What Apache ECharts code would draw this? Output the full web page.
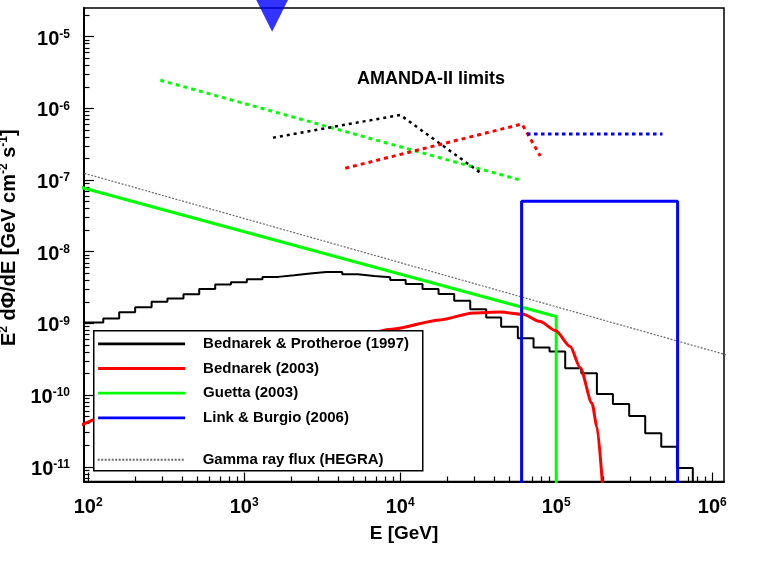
<!DOCTYPE html>
<html>
<head>
<meta charset="utf-8">
<script src="https://cdn.jsdelivr.net/npm/echarts@6/dist/echarts.min.js"></script>
<style>
  html, body { margin: 0; padding: 0; background: #fff; }
  #chart { width: 766px; height: 564px; }
</style>
</head>
<body>
<div id="chart"></div>
<script>
// axis ranges and tick labels
const xMin = 94, xMax = 1.19e6
const yMin = 6.24e-12, yMax = 2.51e-5
const xMajor = [1e2, 1e3, 1e4, 1e5, 1e6]
const yMajor = [1e-11, 1e-10, 1e-9, 1e-8, 1e-7, 1e-6, 1e-5]

// Bednarek & Protheroe (1997) - histogram, bin edges [GeV] and bin contents
const bpEdges = [90, 125, 158, 200, 255, 322, 408, 515, 652, 822, 1040, 1309, 1652, 2094, 2650, 3356, 4250, 5344,
  6813, 8630, 10840, 13900, 17610, 22190, 28110, 35600, 44370, 56770, 71560, 90620, 114200, 144700, 182300,
  230900, 293600, 372000, 471400, 594000, 751000]
const bpFlux = [1.03e-9, 1.17e-9, 1.43e-9, 1.68e-9, 2.0e-9, 2.22e-9, 2.55e-9, 3.03e-9, 3.48e-9, 3.76e-9, 4.13e-9,
  4.46e-9, 4.7e-9, 4.96e-9, 5.22e-9, 5.22e-9, 4.85e-9, 4.59e-9, 4.39e-9, 4.05e-9, 3.56e-9, 3.03e-9, 2.58e-9,
  2.08e-9, 1.58e-9, 1.21e-9, 9.0e-10, 6.2e-10, 4.6e-10, 4.05e-10, 2.37e-10, 2.02e-10, 1.04e-10, 7.5e-11,
  5.1e-11, 2.94e-11, 1.91e-11, 9.6e-12]

// Bednarek (2003)
const bedE = [90, 316, 1000, 3162, 8850, 18030, 29380, 43750, 61380, 78890, 99000, 123000, 142600, 169500, 182400, 198600]
const bedFlux = [3.84e-11, 9.4e-11, 2.1e-10, 4.47e-10, 8.3e-10, 1.12e-9, 1.40e-9, 1.445e-9, 1.34e-9, 1.06e-9,
  7.94e-10, 4.75e-10, 2.41e-10, 7.7e-11, 3.64e-11, 5.1e-12]

// Guetta (2003)
const gueE = [90, 1e5, 1e5]
const gueFlux = [7.9e-8, 1.25e-9, 1e-13]

// Link & Burgio (2006)
const linkE = [6e4, 6e4, 6e5, 6e5]
const linkFlux = [1e-13, 5.06e-8, 5.06e-8, 1e-13]

// Gamma ray flux (HEGRA)
const hegraE = [90, 1.25e6]
const hegraFlux = [1.28e-7, 3.61e-10]

// AMANDA-II limits
const amGreenE = [290, 58800]
const amGreenFlux = [2.47e-6, 1.0e-7]
const amBlackE = [1530, 10000, 33400]
const amBlackFlux = [3.9e-7, 8.1e-7, 1.22e-7]
const amRedE = [4440, 60300, 79000]
const amRedFlux = [1.46e-7, 6.05e-7, 2.17e-7]
const amBlueE = [65000, 480000]
const amBlueFlux = [4.4e-7, 4.4e-7]

// marker at the top
const markerE = [1510]
const markerFlux = [2.23e-5]

const FONT = 'Liberation Sans, Arial, sans-serif'

function pts(xs, ys) {
  return xs.map((x, i) => [x, ys[i]])
}

function minorOf(major, lo, hi) {
  const out = []
  const first = major[0] / 10
  for (let d = first; d <= major[major.length - 1] * 10; d *= 10) {
    for (let k = 2; k <= 9; k++) {
      const v = d * k
      if (v > lo && v < hi) out.push(v)
    }
  }
  return out
}

// histogram as a step line
const bpPoints = bpFlux.map((v, i) => [bpEdges[i], v])
bpPoints.push([bpEdges[bpEdges.length - 1], bpFlux[bpFlux.length - 1]])
bpPoints.push([bpEdges[bpEdges.length - 1], 1e-13])

const expLabel = v => '{b|10}{s|' + Math.round(Math.log10(v)) + '}'
const xLabelRich = {
  b: { fontSize: 20, fontWeight: 'bold', fontFamily: FONT, color: '#000', lineHeight: 20, padding: [2, 0, 0, 0] },
  s: { fontSize: 12, fontWeight: 'bold', fontFamily: FONT, color: '#000', lineHeight: 12, verticalAlign: 'top' }
}
const yLabelRich = {
  b: { fontSize: 20, fontWeight: 'bold', fontFamily: FONT, color: '#000', lineHeight: 20, padding: [5, 0, 0, 0] },
  s: { fontSize: 12, fontWeight: 'bold', fontFamily: FONT, color: '#000', lineHeight: 12, verticalAlign: 'top', padding: [2, 0, 0, 0] }
}
const legendText = { fontSize: 15, fontWeight: 'bold', fontFamily: FONT, color: '#000', padding: [0, 0, 0, 13] }
// hide the symbol drawn in the middle of legend lines
const legendItem = { opacity: 0, color: 'rgba(0,0,0,0)', borderWidth: 0 }

const chart = echarts.init(document.getElementById('chart'))

const option = {
  animation: false,
  backgroundColor: '#fff',
  grid: {
    left: 84, right: 42, top: 8, bottom: 82.5,
    outerBoundsMode: 'none', containLabel: false,
    show: true, borderColor: '#000', borderWidth: 1.5, backgroundColor: 'transparent'
  },
  xAxis: [{
    type: 'log', logBase: 10, min: xMin, max: xMax, position: 'bottom',
    name: 'E [GeV]', nameLocation: 'middle', nameGap: 43,
    nameTextStyle: { fontSize: 19, fontWeight: 'bold', fontFamily: FONT, color: '#000' },
    axisLine: { show: true, lineStyle: { color: '#000', width: 2 } },
    axisTick: { show: true, inside: true, length: 9, customValues: xMajor, lineStyle: { color: '#000', width: 1.2 } },
    axisLabel: { customValues: xMajor, margin: 15, formatter: expLabel, rich: xLabelRich },
    splitLine: { show: false }
  }, {
    type: 'log', logBase: 10, min: xMin, max: xMax, position: 'bottom',
    axisLine: { show: false },
    axisTick: { show: true, inside: true, length: 5, customValues: minorOf(xMajor, xMin, xMax), lineStyle: { color: '#000', width: 1.2 } },
    axisLabel: { show: false },
    splitLine: { show: false }
  }],
  yAxis: [{
    type: 'log', logBase: 10, min: yMin, max: yMax, position: 'left',
    name: '{n|E}{p|2}{n| dΦ/dE [GeV cm}{p|-2}{n| s}{p|-1}{n|]}',
    nameLocation: 'middle', nameGap: 48,
    nameTextStyle: {
      padding: [0, 0, 0, 14],
      rich: {
        n: { fontSize: 20, fontWeight: 'bold', fontFamily: FONT, color: '#000', lineHeight: 20, padding: [3, 0, 0, 0] },
        p: { fontSize: 12, fontWeight: 'bold', fontFamily: FONT, color: '#000', lineHeight: 12, verticalAlign: 'top' }
      }
    },
    axisLine: { show: true, lineStyle: { color: '#000', width: 2 } },
    axisTick: { show: true, inside: true, length: 10, customValues: yMajor, lineStyle: { color: '#000', width: 1.2 } },
    axisLabel: { customValues: yMajor, margin: 14, formatter: expLabel, rich: yLabelRich },
    splitLine: { show: false }
  }, {
    type: 'log', logBase: 10, min: yMin, max: yMax, position: 'left',
    axisLine: { show: false },
    axisTick: { show: true, inside: true, length: 5.5, customValues: minorOf(yMajor, yMin, yMax), lineStyle: { color: '#000', width: 1.2 } },
    axisLabel: { show: false },
    splitLine: { show: false }
  }],
  legend: [{
    orient: 'vertical', left: 96.7, top: 336.3, padding: 0, z: 20,
    itemWidth: 87, itemHeight: 14, itemGap: 9.7, selectedMode: false,
    textStyle: legendText, itemStyle: legendItem, lineStyle: { width: 2.8 },
    data: ['Bednarek & Protheroe (1997)', 'Bednarek (2003)', 'Guetta (2003)', 'Link & Burgio (2006)']
  }, {
    orient: 'vertical', left: 96.7, top: 452.3, padding: 0, z: 20,
    itemWidth: 87, itemHeight: 14, selectedMode: false,
    textStyle: legendText, itemStyle: legendItem,
    data: ['Gamma ray flux (HEGRA)']
  }],
  graphic: [{
    type: 'rect', left: 93, top: 330, z: 10,
    shape: { width: 329, height: 140 },
    style: { fill: '#fff', stroke: '#000', lineWidth: 1.5 }
  }, {
    type: 'text', left: 357, top: 70, z: 10,
    style: { text: 'AMANDA-II limits', fontSize: 18, fontWeight: 'bold', fontFamily: FONT, fill: '#000' }
  }],
  series: [{
    name: 'Gamma ray flux (HEGRA)', type: 'line', data: pts(hegraE, hegraFlux),
    symbol: 'none', silent: true,
    lineStyle: { color: '#6a6a6a', width: 1.2, type: [2, 1.5] }, itemStyle: { color: '#6a6a6a' }
  }, {
    name: 'Bednarek & Protheroe (1997)', type: 'line', data: bpPoints, step: 'end',
    symbol: 'none', silent: true,
    lineStyle: { color: '#000', width: 2 }, itemStyle: { color: '#000' }
  }, {
    name: 'Guetta (2003)', type: 'line', data: pts(gueE, gueFlux),
    symbol: 'none', silent: true,
    lineStyle: { color: '#00ff00', width: 3 }, itemStyle: { color: '#00ff00' }
  }, {
    name: 'Bednarek (2003)', type: 'line', data: pts(bedE, bedFlux),
    symbol: 'none', silent: true, smooth: 0.25, smoothMonotone: 'x',
    lineStyle: { color: '#ff0000', width: 3 }, itemStyle: { color: '#ff0000' }
  }, {
    name: 'Link & Burgio (2006)', type: 'line', data: pts(linkE, linkFlux),
    symbol: 'none', silent: true,
    lineStyle: { color: '#0000ff', width: 3 }, itemStyle: { color: '#0000ff' }
  }, {
    name: 'AMANDA Guetta', type: 'line', data: pts(amGreenE, amGreenFlux),
    symbol: 'none', silent: true,
    lineStyle: { color: '#00ff00', width: 3, type: [4, 4] }
  }, {
    name: 'AMANDA BP97', type: 'line', data: pts(amBlackE, amBlackFlux),
    symbol: 'none', silent: true,
    lineStyle: { color: '#000', width: 2.5, type: [3, 4] }
  }, {
    name: 'AMANDA Bednarek', type: 'line', data: pts(amRedE, amRedFlux),
    symbol: 'none', silent: true,
    lineStyle: { color: '#ff0000', width: 3, type: [4, 4] }
  }, {
    name: 'AMANDA Link', type: 'line', data: pts(amBlueE, amBlueFlux),
    symbol: 'none', silent: true,
    lineStyle: { color: '#0000ff', width: 3, type: [3.5, 3.5] }
  }, {
    name: 'marker', type: 'scatter', data: pts(markerE, markerFlux),
    symbol: 'triangle', symbolRotate: 180, symbolSize: [40, 40], clip: false, silent: true, z: 6,
    itemStyle: { color: '#0000ff' }
  }]
}

chart.setOption(option)
</script>
</body>
</html>
